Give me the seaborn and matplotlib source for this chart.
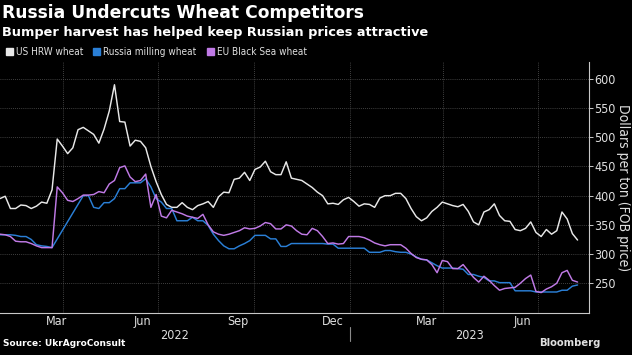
import numpy as np
import pandas as pd
import matplotlib
matplotlib.use("Agg")
import matplotlib.pyplot as plt
import matplotlib.dates as mdates
import matplotlib.transforms as mtransforms
from matplotlib.patches import Patch
import seaborn as sns

# prices, dollars per ton (FOB), sampled every 5 days
dates = pd.date_range("2022-01-30", periods=112, freq="5D")

us_hrw = [395, 399, 378, 378, 384, 383, 378, 382, 389, 387,
          410, 497, 485, 472, 482, 513, 517, 511, 505, 490,
          514, 545, 590, 527, 526, 485, 495, 493, 482, 450,
          424, 402, 385, 380, 380, 388, 380, 376, 383, 386,
          390, 380, 398, 406, 405, 428, 430, 440, 426, 445,
          449, 459, 441, 436, 436, 458, 430, 428, 426, 420,
          414, 406, 400, 386, 387, 385, 393, 397, 390, 382,
          386, 385, 380, 396, 400, 400, 404, 404, 395, 378,
          364, 357, 362, 373, 380, 389, 386, 383, 381, 385,
          373, 355, 350, 372, 376, 386, 366, 357, 356, 342,
          340, 344, 355, 337, 330, 342, 334, 340, 372, 360, 335, 324]

russia_milling = [333, 333, 333, 332, 330, 330, 325, 316, 314, 313,
                  311, np.nan, np.nan, np.nan, np.nan, np.nan, 400, 400, 380, 378,
                  388, 388, 395, 412, 412, 422, 422, 422, 429, 415,
                  395, 389, 378, 378, 357, 357, 357, 363, 357, 357,
                  349, 334, 323, 314, 309, 309, 314, 318, 323, 332,
                  332, 332, 326, 326, 313, 313, 318, 318, 318, 318,
                  318, 318, 318, 317, 317, 310, 310, 310, 310, 310,
                  310, 303, 303, 303, 306, 306, 304, 303, 303, 300,
                  295, 291, 290, 285, 280, 276, 276, 276, 275, 274,
                  265, 265, 262, 260, 254, 254, 251, 251, 251, 237,
                  237, 237, 237, 235, 235, 235, 235, 235, 238, 238, 245, 247]

eu_black_sea = [334, 333, 330, 322, 321, 321, 318, 314, 311, 311,
                311, 415, 405, 392, 390, 395, 401, 401, 402, 407,
                405, 420, 426, 448, 451, 432, 424, 426, 437, 380,
                402, 365, 362, 375, 372, 369, 365, 363, 361, 368,
                350, 338, 334, 332, 334, 337, 340, 345, 343, 344,
                348, 354, 352, 343, 343, 350, 348, 340, 334, 333,
                344, 340, 330, 318, 319, 317, 318, 330, 330, 330,
                328, 324, 319, 316, 314, 316, 316, 316, 310, 301,
                294, 291, 290, 282, 268, 289, 287, 275, 275, 282,
                271, 260, 252, 262, 255, 246, 238, 241, 242, 243,
                250, 258, 264, 236, 234, 240, 244, 250, 268, 272, 255, 252]

series_names = ["US HRW wheat", "Russia milling wheat", "EU Black Sea wheat"]
colors = ["#e8e8e8", "#2a7fd6", "#c07ae6"]

month_labels = ["Mar", "Jun", "Sep", "Dec", "Mar", "Jun"]
month_label_dates = ["2022-03-25", "2022-06-16", "2022-09-16", "2022-12-16", "2023-03-16", "2023-06-16"]
year_labels = ["2022", "2023"]
year_label_dates = ["2022-07-17", "2023-04-26"]

df = pd.DataFrame({"date": dates, series_names[0]: us_hrw,
                   series_names[1]: russia_milling, series_names[2]: eu_black_sea})
long = df.melt(id_vars="date", var_name="series", value_name="price").dropna()

sns.set_style("dark", {"axes.facecolor": "black", "figure.facecolor": "black"})
plt.rcParams["font.family"] = ["DejaVu Sans"]
small = {"family": "DejaVu Sans", "stretch": "condensed"}
grey = "#c8c8c8"
txt = "#e0e0e0"

fig = plt.figure(figsize=(6.32, 3.55), dpi=100, facecolor="black")
ax = fig.add_axes([0.0, 0.1183, 0.932, 0.7071])
ax.set_facecolor("black")

sns.lineplot(data=long, x="date", y="price", hue="series", hue_order=series_names,
             palette=dict(zip(series_names, colors)), estimator=None, sort=True,
             linewidth=1.05, legend=False, ax=ax)

ax.set_xlim(pd.Timestamp("2022-01-30"), pd.Timestamp("2023-08-19"))
ax.set_ylim(199, 629)

# y axis on the right
ax.yaxis.tick_right()
ax.yaxis.set_label_position("right")
ax.set_yticks(range(250, 601, 50))
ax.tick_params(axis="y", colors=grey, length=3, width=0.7, pad=1,
               direction="out", labelcolor=txt)
for lab in ax.get_yticklabels():
    lab.set_fontproperties(small)
    lab.set_fontsize(9)
ax.set_ylabel("Dollars per ton (FOB price)", rotation=270, labelpad=10,
              color=txt, fontsize=10, fontstretch="condensed")
ax.set_xlabel("")

# x axis: quarter gridlines, monthly minor ticks
ax.xaxis.set_major_locator(mdates.MonthLocator(bymonth=[1, 4, 7, 10]))
ax.xaxis.set_minor_locator(mdates.MonthLocator())
ax.xaxis.set_major_formatter(plt.NullFormatter())
ax.tick_params(axis="x", which="major", colors=grey, length=4, width=0.7)
ax.tick_params(axis="x", which="minor", colors=grey, length=2.5, width=0.7)

ax.grid(True, which="major", color="#555555", linestyle=(0, (1, 1.5)), linewidth=0.6)

for side in ["left", "top"]:
    ax.spines[side].set_visible(False)
for side in ["right", "bottom"]:
    ax.spines[side].set_visible(True)
    ax.spines[side].set_color(grey)
    ax.spines[side].set_linewidth(0.8)

trans = mtransforms.blended_transform_factory(ax.transData, ax.transAxes)
for lab, d in zip(month_labels, month_label_dates):
    ax.text(mdates.date2num(pd.Timestamp(d)), -0.034, lab, transform=trans,
            ha="center", va="center", color=txt, fontsize=9, fontstretch="condensed")
for lab, d in zip(year_labels, year_label_dates):
    ax.text(mdates.date2num(pd.Timestamp(d)), -0.088, lab, transform=trans,
            ha="center", va="center", color=txt, fontsize=9, fontstretch="condensed")
sep = mdates.date2num(pd.Timestamp("2023-01-01"))
ax.plot([sep, sep], [-0.055, -0.11], transform=trans, color="#8a8a8a",
        linewidth=0.8, clip_on=False)

# titles
fig.text(0.003, 0.988, "Russia Undercuts Wheat Competitors", color="white",
         fontsize=12.3, fontweight="bold", va="top", ha="left")
fig.text(0.003, 0.928, "Bumper harvest has helped keep Russian prices attractive",
         color="white", fontsize=9.3, fontweight="bold", va="top", ha="left")

handles = [Patch(facecolor=c, edgecolor=c, label=n) for n, c in zip(series_names, colors)]
leg = fig.legend(handles=handles, loc="center left", bbox_to_anchor=(0.0, 0.853),
                 ncol=3, frameon=False, handlelength=0.7, handleheight=0.7,
                 handletextpad=0.3, columnspacing=1.0, borderaxespad=0.2,
                 prop={"family": "DejaVu Sans", "stretch": "condensed", "size": 7.2})
for t in leg.get_texts():
    t.set_color(txt)

fig.text(0.004, 0.02, "Source: UkrAgroConsult", color="white", fontsize=6.5,
         fontweight="bold", va="bottom", ha="left")
fig.text(0.95, 0.02, "Bloomberg", color=txt, fontsize=8, fontweight="bold",
         va="bottom", ha="right", fontstretch="condensed")

fig.savefig("out.png", dpi=100, facecolor="black")
